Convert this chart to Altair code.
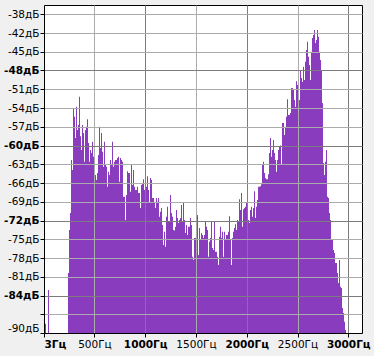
import altair as alt
import pandas as pd

# ---- data ----
F_START = 3          # Hz, first bin frequency
BIN_HZ = 9.85        # Hz per spectrum bin
N_BINS = 318

LOW_BINS = [1, 4]
LOW_DB = [-88.5, -83.1]

MAIN_START_BIN = 24
MAIN_DB = [
    -80.4, -73.5, -70.8, -62.3, -63.9, -54.0, -55.4, -58.8, -53.8, -57.5,
    -56.7, -52.2, -58.5, -60.7, -56.7, -58.0, -62.6, -57.5, -57.0, -55.8,
    -59.6, -62.6, -60.7, -61.2, -59.4, -61.8, -63.9, -64.7, -65.5, -64.4,
    -61.5, -57.0, -60.4, -58.0, -61.0, -63.4, -59.4, -63.1, -63.4, -66.6,
    -64.2, -64.7, -62.3, -63.1, -59.4, -63.4, -62.6, -62.3, -62.3, -62.0,
    -61.8, -65.8, -62.0, -62.3, -62.6, -68.2, -68.2, -71.9, -67.9, -64.1,
    -64.4, -64.4, -67.4, -63.1, -66.3, -63.9, -66.6, -67.1, -67.1, -66.6,
    -67.6, -67.6, -70.0, -66.3, -66.0, -65.4, -67.1, -65.0, -66.6, -64.9,
    -67.1, -69.2, -65.2, -65.5, -68.4, -68.4, -69.2, -70.0, -68.4, -69.0,
    -68.4, -71.4, -70.6, -70.0, -72.7, -75.9, -73.8, -76.2, -71.4, -69.8,
    -72.2, -72.2, -67.9, -70.8, -71.4, -73.5, -73.6, -73.0, -70.3, -71.6,
    -72.4, -71.9, -71.6, -69.5, -72.2, -69.2, -71.9, -74.0, -72.7, -74.3,
    -73.0, -73.0, -71.6, -72.7, -77.8, -78.3, -74.8, -74.8, -74.6, -71.1,
    -77.5, -73.2, -75.1, -74.0, -74.3, -74.8, -74.3, -72.2, -73.0, -73.5,
    -77.8, -75.4, -74.8, -72.2, -76.4, -76.7, -72.2, -77.0, -77.0, -77.8,
    -79.1, -74.6, -73.0, -74.8, -73.8, -77.8, -73.8, -75.1, -74.3, -74.3,
    -73.8, -71.3, -75.1, -79.1, -74.8, -73.8, -73.2, -72.6, -73.5, -71.9,
    -72.1, -68.6, -70.3, -67.6, -73.0, -70.2, -70.0, -69.8, -69.2, -67.9,
    -71.9, -72.4, -70.3, -69.8, -71.4, -70.0, -67.3, -71.6, -69.8, -68.7,
    -66.6, -66.6, -66.5, -66.2, -63.1, -62.6, -64.4, -65.2, -65.4, -65.4,
    -64.6, -61.2, -58.8, -61.8, -60.7, -59.1, -61.2, -62.3, -64.2, -62.3,
    -60.7, -60.2, -60.0, -63.1, -56.4, -56.4, -58.3, -57.0, -55.4, -52.6,
    -55.1, -55.1, -54.8, -50.8, -50.8, -51.0, -52.7, -53.8, -49.7, -50.3,
    -52.4, -52.7, -47.9, -49.2, -49.8, -47.4, -49.5, -46.6, -44.7, -43.4,
    -45.8, -47.1, -49.5, -45.2, -42.8, -42.3, -41.5, -43.6, -43.1, -41.5,
    -42.6, -45.0, -46.3, -47.9, -53.2, -62.8, -64.7, -62.6, -60.7, -68.2,
    -68.4, -70.8, -71.9, -75.1, -75.1, -76.7, -77.2, -78.8, -78.8, -80.4,
    -82.0, -78.3, -82.6, -82.8, -86.0, -86.8, -88.2, -89.5,
]

Y_TICKS = [-39, -42, -45, -48, -51, -54, -57, -60, -63, -66, -69, -72,
           -75, -78, -81, -84, -87, -90]
Y_LABELS = ["-38дБ", "-42дБ", "-45дБ", "-48дБ", "-51дБ", "-54дБ", "-57дБ",
            "-60дБ", "-63дБ", "-66дБ", "-69дБ", "-72дБ", "-75дБ", "-78дБ",
            "-81дБ", "-84дБ", "", "-90дБ"]
Y_MAJOR = [-48, -60, -72, -84]

X_TICKS = [3, 500, 1000, 1500, 2000, 2500, 3000]
X_LABELS = ["3Гц", "500Гц", "1000Гц", "1500Гц", "2000Гц", "2500Гц", "3000Гц"]
X_BOLD = [3, 1000, 2000, 3000]
X_MAJOR = [1000, 2000, 3000]

Y_MIN, Y_MAX = -90, -37.52
PURPLE = "#8a3cbe"
FONT = "DejaVu Sans"

# ---- build table ----
bins = LOW_BINS + [MAIN_START_BIN + i for i in range(len(MAIN_DB))]
dbs = LOW_DB + MAIN_DB
df = pd.DataFrame({"bin": bins, "db": dbs})
df["f0"] = F_START + df["bin"] * BIN_HZ
df["f1"] = df["f0"] + BIN_HZ
df["base"] = Y_MIN


def in_list(vals):
    return " || ".join(f"datum.value == {v}" for v in vals)


def arr(vals, quote=False):
    if quote:
        return "[" + ",".join(f"'{v}'" for v in vals) + "]"
    return "[" + ",".join(str(v) for v in vals) + "]"


x_axis = alt.Axis(
    values=X_TICKS,
    labelExpr=f"{arr(X_LABELS, True)}[indexof({arr(X_TICKS)}, datum.value)]",
    title=None,
    grid=True,
    gridColor={"condition": {"test": in_list(X_MAJOR), "value": "#7c7c7c"}, "value": "#ababab"},
    labelFontWeight={"condition": {"test": in_list(X_BOLD), "value": "bold"}, "value": "normal"},
    labelFont=FONT, labelFontSize=10.5, labelColor="black",
    labelFlush=True, labelOverlap=False, labelPadding=2,
    tickSize=4, tickColor="black", domainColor="black",
    zindex=1,
)

y_axis = alt.Axis(
    values=Y_TICKS,
    labelExpr=f"{arr(Y_LABELS, True)}[indexof({arr(Y_TICKS)}, datum.value)]",
    title=None,
    grid=True,
    gridColor={"condition": {"test": in_list(Y_MAJOR), "value": "#7c7c7c"}, "value": "#ababab"},
    labelFontWeight={"condition": {"test": in_list(Y_MAJOR), "value": "bold"}, "value": "normal"},
    labelFont=FONT, labelFontSize=10.5, labelColor="black",
    labelFlush=True, labelOverlap=False, labelPadding=1,
    tickSize=4, tickColor="black", domainColor="black",
    zindex=1,
)

chart = alt.Chart(df).mark_rect(color=PURPLE, strokeWidth=0).encode(
    x=alt.X("f0:Q", scale=alt.Scale(domain=[F_START, F_START + N_BINS * BIN_HZ], nice=False, zero=False), axis=x_axis),
    x2="f1:Q",
    y=alt.Y("db:Q", scale=alt.Scale(domain=[Y_MIN, Y_MAX], nice=False, zero=False), axis=y_axis),
    y2="base:Q",
).properties(
    width=318,
    height=328,
    autosize=alt.AutoSizeParams(type="none"),
    padding={"left": 44, "top": 5, "right": 12, "bottom": 23},
    background="#f0f0f0",
).configure_view(fill="white", stroke="black", strokeWidth=1)

chart.save("out.html", embed_options={"renderer": "svg", "actions": False})
